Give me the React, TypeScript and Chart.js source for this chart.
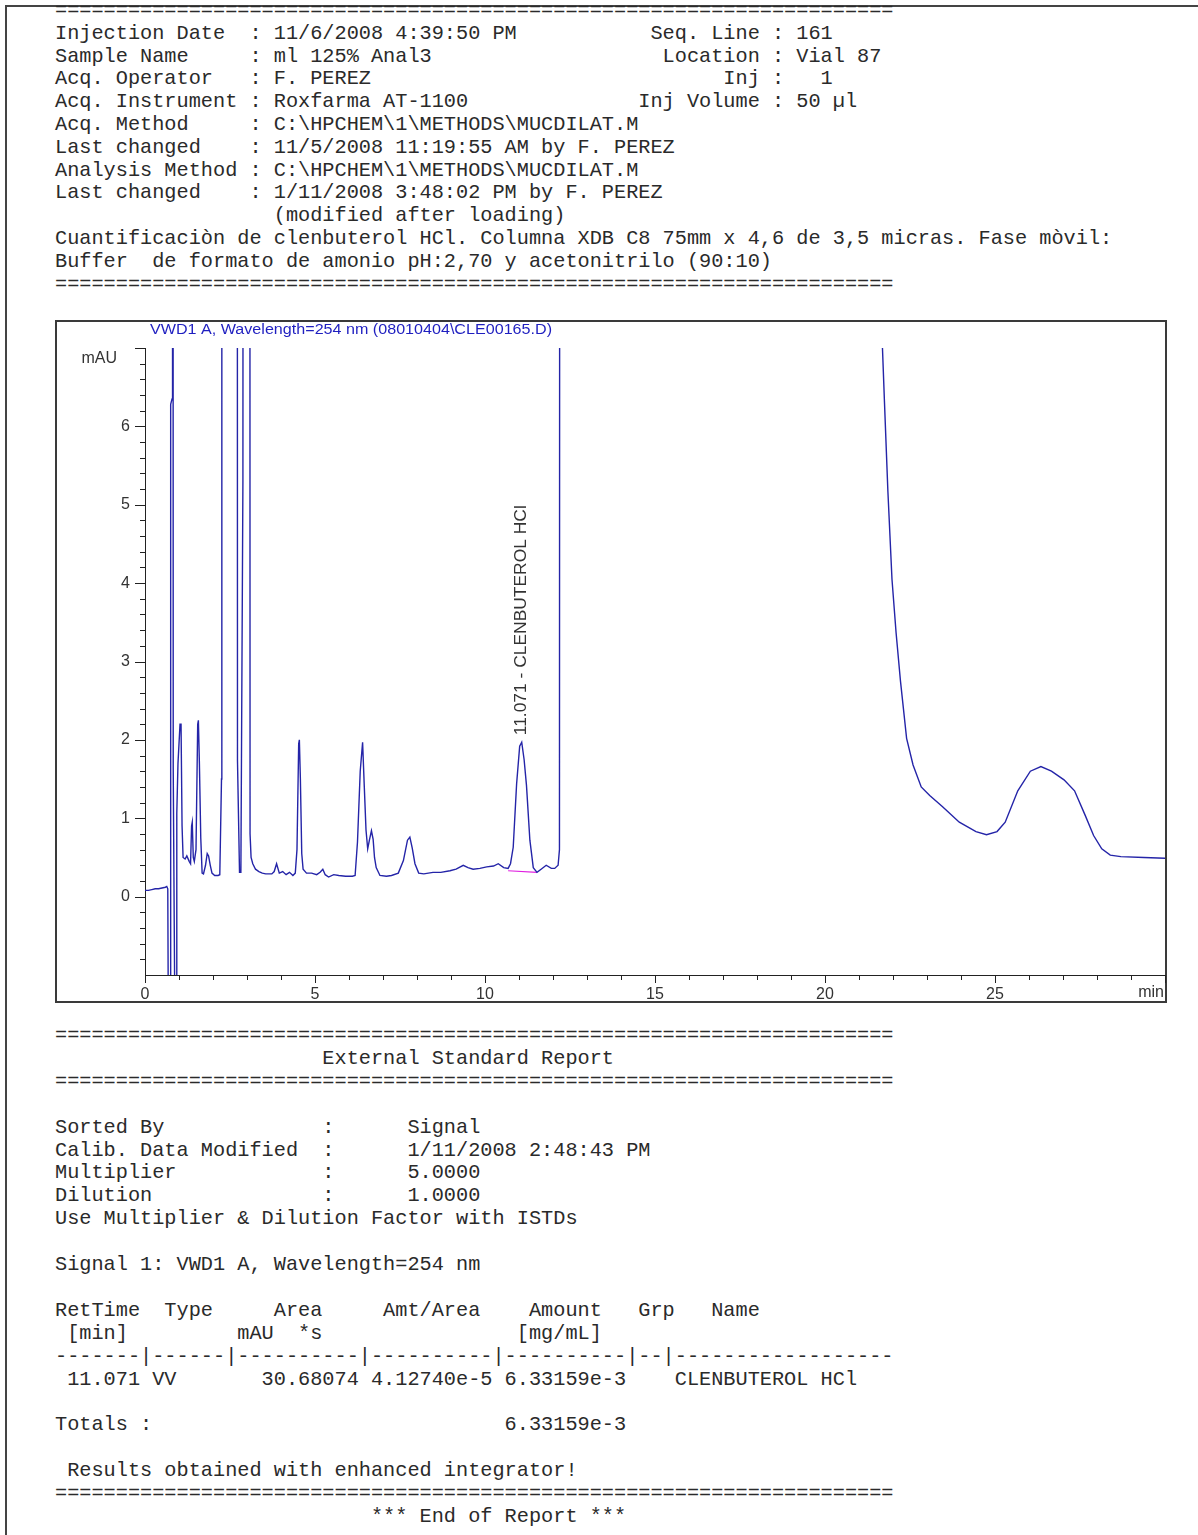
import React, { useEffect, useRef } from 'react';
import { Chart, registerables } from 'chart.js';

Chart.register(...registerables);

// ---- Chromatogram data (retention time in min, signal in mAU) ----
// values above 7 / below -1 are off-scale in the original print (estimated)
const retentionTimes = [
  0.0, 0.1, 0.2, 0.3, 0.4, 0.5, 0.6, 0.64, 0.67,
  0.7, 0.74, 0.755, 0.795, 0.8, 0.82, 0.83, 0.86, 0.9, 0.92, 0.935, 0.97, 1.03, 1.06, 1.09,
  1.12, 1.18, 1.23, 1.3, 1.34, 1.37, 1.39, 1.42, 1.45, 1.5, 1.55, 1.57, 1.6, 1.64, 1.68,
  1.72, 1.78, 1.83, 1.87, 1.92, 1.97, 2.05, 2.15, 2.2, 2.25, 2.26, 2.7, 2.72, 2.78, 2.82,
  2.88, 2.91, 3.07, 3.09, 3.12, 3.17, 3.25, 3.35, 3.45, 3.55, 3.73, 3.8, 3.87, 3.95, 4.05,
  4.15, 4.25, 4.35, 4.42, 4.47, 4.52, 4.54, 4.57, 4.61, 4.65, 4.75, 4.9, 5.05, 5.15, 5.23,
  5.3, 5.4, 5.55, 5.7, 5.9, 6.1, 6.18, 6.25, 6.33, 6.4, 6.45, 6.5, 6.55, 6.6, 6.66, 6.71,
  6.75, 6.8, 6.91, 7.1, 7.25, 7.45, 7.6, 7.72, 7.79, 7.86, 7.94, 8.05, 8.2, 8.47, 8.7,
  8.97, 9.15, 9.36, 9.5, 9.65, 9.85, 10.05, 10.25, 10.39, 10.55, 10.68, 10.75, 10.83,
  10.93, 11.02, 11.08, 11.15, 11.22, 11.32, 11.42, 11.53, 11.65, 11.8, 11.95, 12.05,
  12.15, 12.19, 12.22, 21.65, 21.69, 21.75, 21.85, 21.97, 22.09, 22.22, 22.4, 22.59,
  22.83, 23.08, 23.45, 23.95, 24.44, 24.75, 25.06, 25.3, 25.67, 26.04, 26.35, 26.66,
  27.03, 27.34, 27.65, 27.9, 28.14, 28.39, 28.7, 29.38, 30.0,
];
const absorbance = [
  0.08, 0.08, 0.09, 0.1, 0.1, 0.11, 0.12, 0.13, 0.1,
  -3, -3, 6.28, 6.35, 40, 40, 1.64, -0.35, -3, -3, 1.06, 1.7, 2.2, 2.2, 0.9,
  0.5, 0.48, 0.52, 0.45, 0.42, 0.9, 0.95, 0.5, 0.45, 0.6, 2.2, 2.25, 1.7, 0.75, 0.3,
  0.29, 0.4, 0.55, 0.52, 0.4, 0.3, 0.27, 0.27, 0.28, 1.5, 40, 40, 1.74, 0.31, 0.31,
  5.32, 40, 40, 0.8, 0.5, 0.42, 0.35, 0.32, 0.3, 0.29, 0.29, 0.32, 0.42, 0.3, 0.32,
  0.28, 0.31, 0.27, 0.3, 0.6, 1.95, 2.0, 1.5, 0.55, 0.35, 0.3, 0.3, 0.28, 0.31, 0.35,
  0.28, 0.25, 0.28, 0.27, 0.26, 0.26, 0.27, 0.7, 1.6, 1.97, 1.4, 0.85, 0.61, 0.72, 0.84, 0.73,
  0.5, 0.37, 0.27, 0.26, 0.27, 0.3, 0.46, 0.72, 0.76, 0.62, 0.42, 0.3, 0.29, 0.31, 0.31,
  0.33, 0.35, 0.4, 0.37, 0.35, 0.36, 0.38, 0.39, 0.42, 0.37, 0.36, 0.42, 0.63,
  1.44, 1.92, 1.97, 1.75, 1.42, 0.72, 0.37, 0.31, 0.35, 0.4, 0.36, 0.36,
  0.4, 0.6, 40, 40, 7.0, 6.3, 5.17, 4.05, 3.37, 2.75, 2.02, 1.68,
  1.4, 1.29, 1.15, 0.95, 0.83, 0.79, 0.83, 0.95, 1.35, 1.6, 1.66, 1.6,
  1.49, 1.35, 1.04, 0.78, 0.61, 0.53, 0.51, 0.5, 0.49,
];

// integration baseline drawn under the clenbuterol peak
const baselineTimes = [10.68, 11.53];
const baselineValues = [0.33, 0.31];

const peakTime = 11.071;
const peakLabel = '11.071 - CLENBUTEROL HCl';
const signalTitle = 'VWD1 A, Wavelength=254 nm (08010404\\CLE00165.D)';

const xTickLabels = [0, 5, 10, 15, 20, 25];
const yTickLabels = [0, 1, 2, 3, 4, 5, 6];
const xMin = 0, xMax = 30, yMin = -1, yMax = 7;

// ---- Report text ----
const SEP = '='.repeat(69);
function cols(...parts: [number, string][]): string {
  let s = '';
  for (const [c, t] of parts) {
    if (s.length < c) s = s.padEnd(c, ' ');
    s += t;
  }
  return s;
}

const headerLines = [
  SEP,
  cols([0, 'Injection Date  : 11/6/2008 4:39:50 PM'], [49, 'Seq. Line : 161']),
  cols([0, 'Sample Name     : ml 125% Anal3'], [50, 'Location : Vial 87']),
  cols([0, 'Acq. Operator   : F. PEREZ'], [55, 'Inj :   1']),
  cols([0, 'Acq. Instrument : Roxfarma AT-1100'], [48, 'Inj Volume : 50 \u00b5l']),
  'Acq. Method     : C:\\HPCHEM\\1\\METHODS\\MUCDILAT.M',
  'Last changed    : 11/5/2008 11:19:55 AM by F. PEREZ',
  'Analysis Method : C:\\HPCHEM\\1\\METHODS\\MUCDILAT.M',
  'Last changed    : 1/11/2008 3:48:02 PM by F. PEREZ',
  cols([18, '(modified after loading)']),
  'Cuantificaci\u00f2n de clenbuterol HCl. Columna XDB C8 75mm x 4,6 de 3,5 micras. Fase m\u00f2vil:',
  'Buffer  de formato de amonio pH:2,70 y acetonitrilo (90:10)',
  SEP,
];

const reportLines = [
  SEP,
  cols([22, 'External Standard Report']),
  SEP,
  '',
  cols([0, 'Sorted By'], [22, ':'], [29, 'Signal']),
  cols([0, 'Calib. Data Modified'], [22, ':'], [29, '1/11/2008 2:48:43 PM']),
  cols([0, 'Multiplier'], [22, ':'], [29, '5.0000']),
  cols([0, 'Dilution'], [22, ':'], [29, '1.0000']),
  'Use Multiplier & Dilution Factor with ISTDs',
  '',
  'Signal 1: VWD1 A, Wavelength=254 nm',
  '',
  cols([0, 'RetTime'], [9, 'Type'], [18, 'Area'], [27, 'Amt/Area'], [39, 'Amount'], [48, 'Grp'], [54, 'Name']),
  cols([1, '[min]'], [15, 'mAU'], [20, '*s'], [38, '[mg/mL]']),
  '-------|------|----------|----------|----------|--|------------------',
  cols([1, '11.071'], [8, 'VV'], [17, '30.68074'], [26, '4.12740e-5'], [37, '6.33159e-3'], [51, 'CLENBUTEROL HCl']),
  '',
  cols([0, 'Totals :'], [37, '6.33159e-3']),
  '',
  cols([1, 'Results obtained with enhanced integrator!']),
  SEP,
  cols([26, '*** End of Report ***']),
];

const SANS = '"Liberation Sans", Arial, sans-serif';
const MONO = '"Liberation Mono", "Courier New", monospace';

const furniture = {
  id: 'furniture',
  afterDraw(chart: any) {
    const { ctx, chartArea: a, scales } = chart;
    const x = scales.x, y = scales.y;
    ctx.save();
    // frame
    ctx.strokeStyle = '#3a3a3a';
    ctx.lineWidth = 2;
    ctx.strokeRect(1, 1, chart.width - 2, chart.height - 2);

    // tick marks
    ctx.strokeStyle = '#222';
    ctx.lineWidth = 1;
    ctx.beginPath();
    const nY = Math.round((yMax - yMin) / 0.2);
    for (let i = 1; i <= nY; i++) {
      const v = yMin + i * 0.2;
      const major = i % 5 === 0;
      const py = Math.round(y.getPixelForValue(v)) + 0.5;
      ctx.moveTo(a.left - (major ? 10 : 5), py);
      ctx.lineTo(a.left, py);
    }
    for (let t = xMin; t <= xMax; t++) {
      const px = Math.round(x.getPixelForValue(t)) + 0.5;
      ctx.moveTo(px, a.bottom);
      ctx.lineTo(px, a.bottom + (t % 5 === 0 ? 8 : 5));
    }
    ctx.stroke();

    // unit labels
    ctx.fillStyle = '#333';
    ctx.font = `16px ${SANS}`;
    ctx.textBaseline = 'middle';
    ctx.textAlign = 'right';
    ctx.fillText('mAU', a.left - 28, a.top + 11);
    ctx.fillText('min', a.right - 1, a.bottom + 18);

    // signal title
    ctx.fillStyle = '#1f1fc0';
    ctx.font = `14px ${SANS}`;
    ctx.textAlign = 'left';
    const tw = ctx.measureText(signalTitle).width;
    ctx.save();
    ctx.translate(a.left + 5, 10);
    ctx.scale(402 / tw, 1);
    ctx.fillText(signalTitle, 0, 0);
    ctx.restore();

    // peak annotation
    let best = 0;
    for (let i = 0; i < retentionTimes.length; i++) {
      if (Math.abs(retentionTimes[i] - peakTime) < Math.abs(retentionTimes[best] - peakTime)) best = i;
    }
    const ppx = x.getPixelForValue(peakTime);
    const ppy = y.getPixelForValue(absorbance[best]) - 7;
    ctx.fillStyle = '#333';
    ctx.font = `17px ${SANS}`;
    const lw = ctx.measureText(peakLabel).width;
    ctx.translate(ppx, ppy);
    ctx.rotate(-Math.PI / 2);
    ctx.scale(230 / lw, 1);
    ctx.textAlign = 'left';
    ctx.fillText(peakLabel, 0, 0);
    ctx.restore();
  },
};

export default function App() {
  const ref = useRef<HTMLCanvasElement>(null);
  useEffect(() => {
    const trace = retentionTimes.map((t, i) => ({ x: t, y: absorbance[i] }));
    const baseline = baselineTimes.map((t, i) => ({ x: t, y: baselineValues[i] }));
    const chart = new Chart(ref.current as HTMLCanvasElement, {
      type: 'line',
      data: {
        datasets: [
          { data: trace, borderColor: '#2424a8', borderWidth: 1.4, pointRadius: 0, tension: 0 },
          { data: baseline, borderColor: '#e020e0', borderWidth: 1.2, pointRadius: 0, tension: 0 },
        ],
      },
      options: {
        responsive: false,
        animation: false,
        devicePixelRatio: 1,
        layout: { padding: { top: 28, right: 2, left: 0, bottom: 0 } },
        plugins: { legend: { display: false }, tooltip: { enabled: false }, title: { display: false } },
        scales: {
          x: {
            type: 'linear',
            min: xMin,
            max: xMax,
            grid: { display: false, drawTicks: false },
            border: { display: true, color: '#222', width: 1 },
            ticks: {
              stepSize: 5,
              padding: 10,
              color: '#333',
              autoSkip: false,
              maxRotation: 0,
              font: { family: SANS, size: 16 },
              callback: (v: any) => (xTickLabels.includes(Number(v)) ? String(v) : ''),
            },
            afterFit: (s: any) => { s.height = 28; s.paddingLeft = 0; s.paddingRight = 0; },
          },
          y: {
            type: 'linear',
            min: yMin,
            max: yMax,
            grid: { display: false, drawTicks: false },
            border: { display: true, color: '#222', width: 1 },
            ticks: {
              stepSize: 1,
              padding: 15,
              color: '#333',
              autoSkip: false,
              font: { family: SANS, size: 16 },
              callback: (v: any) => (yTickLabels.includes(Number(v)) ? String(v) : ''),
            },
            afterFit: (s: any) => { s.width = 90; s.paddingTop = 0; s.paddingBottom = 0; },
          },
        },
      } as any,
      plugins: [furniture],
    });
    return () => chart.destroy();
  }, []);

  const textStyle: React.CSSProperties = {
    position: 'absolute',
    left: 55,
    margin: 0,
    fontFamily: MONO,
    fontSize: '20.25px',
    lineHeight: '22.8px',
    color: '#2a2a2a',
    whiteSpace: 'pre',
  };

  return (
    <div style={{ position: 'absolute', left: 0, top: 0, width: 1198, height: 1535, background: '#fff', overflow: 'hidden' }}>
      <div style={{ position: 'absolute', left: 5, top: 5, right: 0, bottom: 0, borderTop: '2px solid #444', borderLeft: '2px solid #444' }} />
      <pre style={{ ...textStyle, top: 0 }}>{headerLines.join('\n')}</pre>
      <div style={{ position: 'absolute', left: 55, top: 320, width: 1112, height: 683 }}>
        <canvas ref={ref} width={1112} height={683} style={{ display: 'block', width: 1112, height: 683 }} />
      </div>
      <pre style={{ ...textStyle, top: 1025, lineHeight: '22.9px' }}>{reportLines.join('\n')}</pre>
    </div>
  );
}
